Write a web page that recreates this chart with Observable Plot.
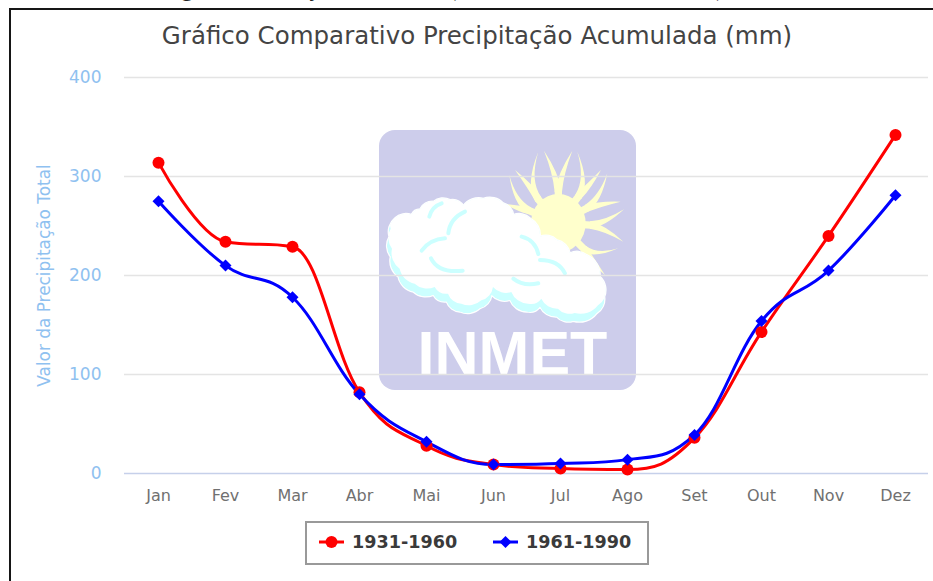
<!DOCTYPE html>
<html>
<head>
<meta charset="utf-8">
<script src="https://cdn.jsdelivr.net/npm/d3@7"></script>
<script src="https://cdn.jsdelivr.net/npm/@observablehq/plot@0.6"></script>
<style>
html,body{margin:0;padding:0;background:#fff;}
#page{position:relative;width:933px;height:581px;overflow:hidden;font-family:"DejaVu Sans",sans-serif;}
#frameTop{position:absolute;left:9px;top:8px;right:0;height:2px;background:#161616;}
#frameLeft{position:absolute;left:9px;top:8px;bottom:0;width:2px;background:#161616;}
#cut{position:absolute;left:85px;top:-25px;font:24px "Liberation Serif",serif;color:#222;white-space:nowrap;}
#title{position:absolute;left:0;width:954px;top:21px;text-align:center;font-size:24.5px;color:#444;white-space:nowrap;}
#chart{position:absolute;left:0;top:0;}
#legend{position:absolute;left:305px;top:521px;width:340px;height:40px;border:2px solid #999;background:#fff;}
#legend svg{position:absolute;left:0;top:0;}
.lg{position:absolute;top:9px;font-size:17.6px;font-weight:bold;color:#3a3a3a;white-space:nowrap;line-height:20px;}
</style>
</head>
<body>
<div id="page">
  <div id="cut">Climatológicas da Estação do Solano (1931 a 1960 e 1961 a 1990).</div>
  <div id="frameTop"></div><div id="frameLeft"></div>
  <div id="title"></div>
  <div id="chart"></div>
  <div id="legend"></div>
</div>
<script>
const months = ["Jan","Fev","Mar","Abr","Mai","Jun","Jul","Ago","Set","Out","Nov","Dez"];
const series1Name = "1931-1960";
const series2Name = "1961-1990";
const series1 = [314,234,229,82,28,9,5,4,36,143,240,342];
const series2 = [275,210,178,80,32,9,10,14,39,154,205,281];
const yTicks = [0,100,200,300,400];
const chartTitle = "Gráfico Comparativo Precipitação Acumulada (mm)";
const yLabel = "Valor da Precipitação Total";

const rows1 = months.map((m,i)=>({m, v:series1[i]}));
const rows2 = months.map((m,i)=>({m, v:series2[i]}));

// Highcharts-style spline
function spline(context){
  let pts;
  return {
    areaStart(){}, areaEnd(){},
    lineStart(){pts=[];},
    point(x,y){pts.push([+x,+y]);},
    lineEnd(){
      const s=1.5,d=s+1,n=pts.length;
      const ctl=i=>{
        if(i<1||i>=n-1) return null;
        const [x,y]=pts[i],[lx,ly]=pts[i-1],[nx,ny]=pts[i+1];
        const lcx=(s*x+lx)/d,rcx=(s*x+nx)/d;
        let lcy=(s*y+ly)/d,rcy=(s*y+ny)/d;
        const c=((rcy-lcy)*(rcx-x))/(rcx-lcx)+y-rcy;
        lcy+=c;rcy+=c;
        if(lcy>ly&&lcy>y){lcy=Math.max(ly,y);rcy=2*y-lcy;}
        else if(lcy<ly&&lcy<y){lcy=Math.min(ly,y);rcy=2*y-lcy;}
        if(rcy>ny&&rcy>y){rcy=Math.max(ny,y);lcy=2*y-rcy;}
        else if(rcy<ny&&rcy<y){rcy=Math.min(ny,y);lcy=2*y-rcy;}
        return {lx:lcx,ly:lcy,rx:rcx,ry:rcy};
      };
      context.moveTo(pts[0][0],pts[0][1]);
      for(let i=1;i<n;i++){
        const a=ctl(i-1),b=ctl(i);
        context.bezierCurveTo(
          a?a.rx:pts[i-1][0],a?a.ry:pts[i-1][1],
          b?b.lx:pts[i][0],b?b.ly:pts[i][1],
          pts[i][0],pts[i][1]);
      }
    }
  };
}

// Watermark logo (decoration behind the chart)
function logoMark(){
  const g=d3.create("svg:g");
  g.append("rect").attr("x",379).attr("y",130).attr("width",257).attr("height",260).attr("rx",16).attr("fill","#cdcdeb");
  const z=g.append("g").attr("transform","translate(370,120) scale(0.3333)");
  const cx=565,cy=310;
  const vees=[
    [[565,215],[522,92],[607,92]],
    [[625,230],[622,95],[693,150]],
    [[650,265],[712,160],[752,245]],
    [[660,315],[762,268],[760,365]],
    [[640,385],[745,385],[705,465]],
    [[505,238],[505,95],[435,150]],
    [[478,272],[418,165],[405,252]]
  ];
  vees.forEach(([b,t1,t2])=>{
    const l=Math.hypot(b[0]-cx,b[1]-cy),ax=[(b[0]-cx)/l,(b[1]-cy)/l],pp=[-ax[1],ax[0]];
    z.append("line").attr("x1",cx).attr("y1",cy).attr("x2",b[0]+ax[0]*4).attr("y2",b[1]+ax[1]*4)
      .attr("stroke","#ffffcc").attr("stroke-width",22);
    [t1,t2].forEach(t=>{
      const dl=Math.hypot(t[0]-b[0],t[1]-b[1]);
      const c=[b[0]+ax[0]*dl*0.42,b[1]+ax[1]*dl*0.42];
      const side=((t[0]-b[0])*pp[0]+(t[1]-b[1])*pp[1])>0?1:-1;
      const o=[c[0]+pp[0]*side*16,c[1]+pp[1]*side*16];
      const i=[c[0]-pp[0]*side*2,c[1]-pp[1]*side*2];
      z.append("path").attr("fill","#ffffcc").attr("d",
        `M${b[0]-pp[0]*11},${b[1]-pp[1]*11}Q${side>0?i:o} ${t}Q${side>0?o:i} ${b[0]+pp[0]*11},${b[1]+pp[1]*11}Z`);
    });
  });
  z.append("ellipse").attr("cx",cx).attr("cy",cy).attr("rx",82).attr("ry",88).attr("fill","#ffffcc");
  const outline=[[62,410],[58,350],[75,295],[125,285],[150,268],[190,245],[240,240],[280,258],[340,236],[400,250],[430,285],[480,295],[510,350],[560,360],[600,400],[650,405],[690,470],[703,530],[680,580],[610,603],[560,590],[510,560],[470,575],[420,540],[365,525],[330,565],[270,575],[230,545],[190,525],[130,515],[85,470]];
  let d=`M${outline[0]}`;
  outline.forEach((p,i)=>{const q=outline[(i+1)%outline.length];const c=Math.hypot(q[0]-p[0],q[1]-p[1]);const r=c*0.9;d+=`A${r},${r} 0 0 1 ${q}`;});
  d+="Z";
  g.append("defs").html(`<clipPath id="cl"><path d="${d}"/></clipPath>`);
  z.append("path").attr("d",d).attr("fill","#fff").attr("stroke","#fff").attr("stroke-width",6);
  const inner=z.append("g").attr("clip-path","url(#cl)");
  inner.append("path").attr("d",d).attr("fill","#ccffff");
  inner.append("path").attr("d",d).attr("fill","#fff").attr("transform","translate(4,-24)");
  [["M155,392Q180,358 225,355"],["M235,340Q240,295 285,275"],["M183,415Q205,460 278,452"],["M430,476Q460,500 505,490"],["M455,350Q495,360 505,402"],["M510,420Q565,420 585,460"],["M178,290Q185,260 215,250"]]
  .forEach(([p])=>z.append("path").attr("d",p).attr("fill","none").attr("stroke","#ccffff").attr("stroke-width",12).attr("stroke-linecap","round"));
  g.append("text").attr("x",512.5).attr("y",374).attr("text-anchor","middle")
    .attr("font-family","'Liberation Sans',sans-serif").attr("font-weight","bold").attr("font-size",61).attr("fill","#fff").text("INMET");
  return g.node();
}

const tickColor="#8fc1f0";
const plot=Plot.plot({
  width:933,height:581,
  marginLeft:124,marginRight:5,marginTop:77,marginBottom:108,
  style:{background:"transparent",fontFamily:"'DejaVu Sans',sans-serif"},
  x:{type:"point",domain:months,padding:0.5},
  y:{domain:[0,400]},
  marks:[
    logoMark,
    Plot.gridY(yTicks.slice(1),{stroke:"#e4e4e4",strokeOpacity:1,strokeWidth:1.3}),
    Plot.ruleY([0],{stroke:"#c6d0ea",strokeWidth:1.6}),
    Plot.axisY({ticks:yTicks,tickSize:0,tickPadding:23,fontSize:17,fill:tickColor,label:null}),
    Plot.axisX({tickSize:0,tickPadding:16,fontSize:16,fill:"#707070",label:null}),
    Plot.text([yLabel],{frameAnchor:"left",dx:-80,rotate:-90,fontSize:16.9,fill:tickColor,
      textAnchor:"middle",text:d=>d}),
    Plot.line(rows1,{x:"m",y:"v",stroke:"#ff0000",strokeWidth:3,curve:spline}),
    Plot.line(rows2,{x:"m",y:"v",stroke:"#0000ff",strokeWidth:3,curve:spline}),
    Plot.dot(rows1,{x:"m",y:"v",fill:"#ff0000",r:6,symbol:"circle"}),
    Plot.dot(rows2,{x:"m",y:"v",fill:"#0000ff",r:5.4,symbol:"diamond2"})
  ]
});
document.getElementById("chart").append(plot);
document.getElementById("title").textContent=chartTitle;

const leg=d3.select("#legend");
const ls=leg.append("svg").attr("width",340).attr("height",40);
ls.append("line").attr("x1",12).attr("x2",37).attr("y1",19).attr("y2",19).attr("stroke","#f00").attr("stroke-width",3);
ls.append("circle").attr("cx",24.5).attr("cy",19).attr("r",6).attr("fill","#f00");
ls.append("line").attr("x1",186).attr("x2",211).attr("y1",19).attr("y2",19).attr("stroke","#00f").attr("stroke-width",3);
ls.append("path").attr("d","M198.5,13L204.5,19L198.5,25L192.5,19Z").attr("fill","#00f");
leg.append("div").attr("class","lg").style("left","45px").text(series1Name);
leg.append("div").attr("class","lg").style("left","219px").text(series2Name);
</script>
</body>
</html>
